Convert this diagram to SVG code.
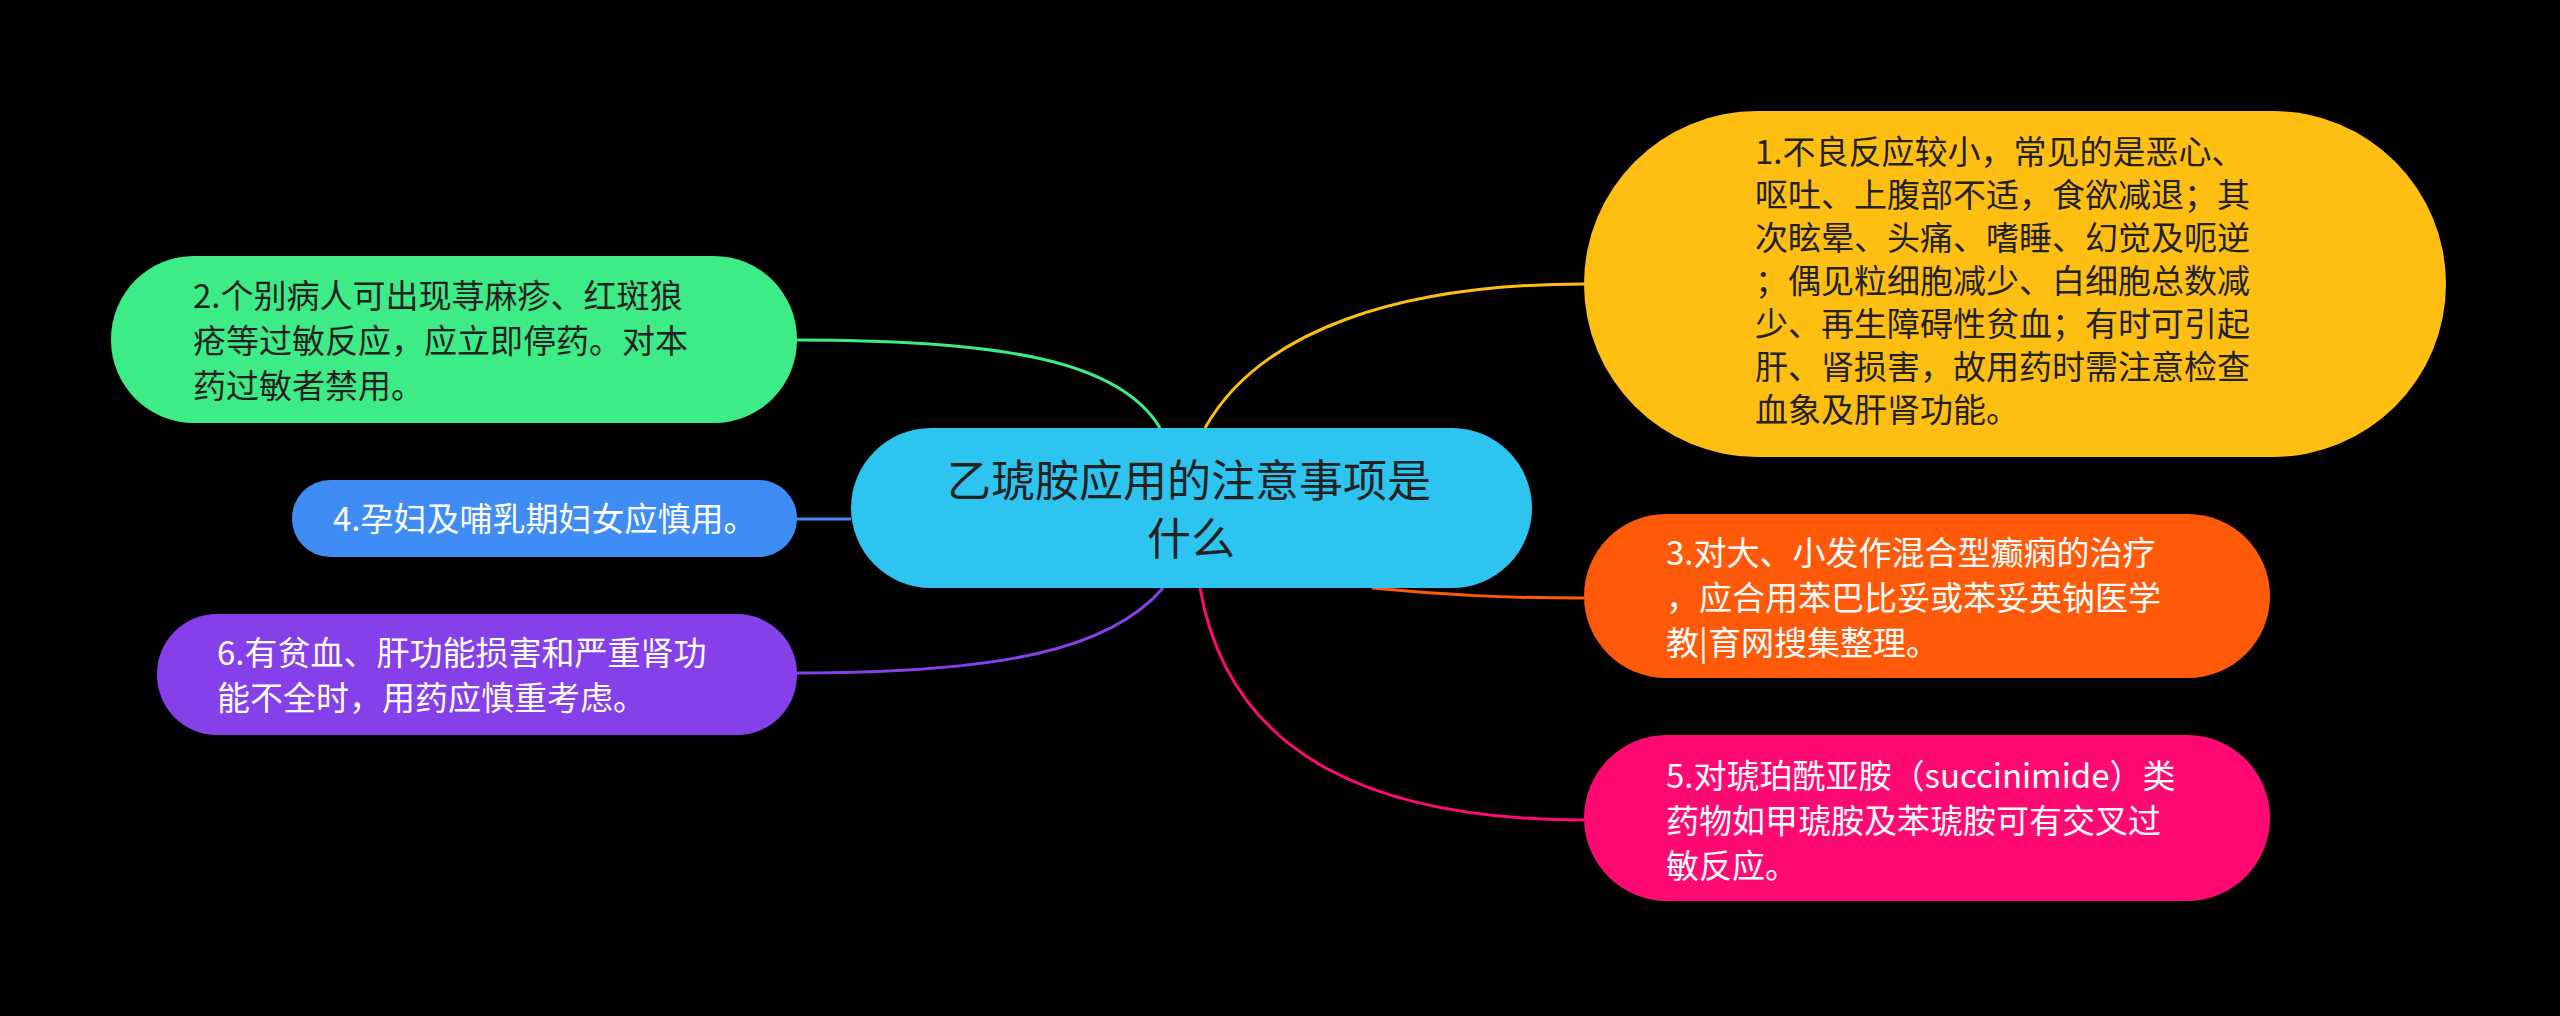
<svg xmlns="http://www.w3.org/2000/svg" width="2560" height="1016" viewBox="0 0 2560 1016">
<style>
text{font-family:"Noto Sans CJK SC","Noto Sans",sans-serif;font-size:33px}
.d{fill:#222}.w{fill:#fff}
.t{font-size:44px}
.c{fill:none;stroke-width:3}
</style>
<rect width="2560" height="1016" fill="#000"/>
<g id="connectors">
<path class="c" stroke="#FFBE12" d="M1205 428 C1260 330 1400 284 1584 284"/>
<path class="c" stroke="#3EEC87" d="M1160 428 C1120 360 1000 340 797 340"/>
<path class="c" stroke="#3F8CF5" d="M851 519 L797 519"/>
<path class="c" stroke="#8640EA" d="M1163 588 C1110 650 1000 673 797 673"/>
<path class="c" stroke="#FF5A0A" d="M1372 588 C1450 595 1500 598 1584 598"/>
<path class="c" stroke="#FF0A72" d="M1200 588 C1230 760 1380 820 1584 820"/>
</g>
<g id="center">
<rect x="851" y="428" width="681" height="160" rx="80" fill="#2EC4F0"/>
<text x="947" y="497" class="d t">乙琥胺应用的注意事项是</text>
<text x="1147" y="555" class="d t">什么</text>
</g>
<g id="n1">
<rect x="1584" y="111" width="862" height="346" rx="173" fill="#FFBE12"/>
<text class="d" x="1755" y="164">1.不良反应较小，常见的是恶心、</text>
<text class="d" x="1755" y="207">呕吐、上腹部不适，食欲减退；其</text>
<text class="d" x="1755" y="250">次眩晕、头痛、嗜睡、幻觉及呃逆</text>
<text class="d" x="1755" y="293">；偶见粒细胞减少、白细胞总数减</text>
<text class="d" x="1755" y="336">少、再生障碍性贫血；有时可引起</text>
<text class="d" x="1755" y="379">肝、肾损害，故用药时需注意检查</text>
<text class="d" x="1755" y="422">血象及肝肾功能。</text>
</g>
<g id="n2">
<rect x="111" y="256" width="686" height="167" rx="83" fill="#3EEC87"/>
<text class="d" x="193" y="308">2.个别病人可出现荨麻疹、红斑狼</text>
<text class="d" x="193" y="353">疮等过敏反应，应立即停药。对本</text>
<text class="d" x="193" y="398">药过敏者禁用。</text>
</g>
<g id="n4">
<rect x="292" y="480" width="505" height="77" rx="38" fill="#3F8CF5"/>
<text class="w" x="333" y="531">4.孕妇及哺乳期妇女应慎用。</text>
</g>
<g id="n6">
<rect x="157" y="614" width="640" height="121" rx="60" fill="#8640EA"/>
<text class="w" x="217" y="665">6.有贫血、肝功能损害和严重肾功</text>
<text class="w" x="217" y="710">能不全时，用药应慎重考虑。</text>
</g>
<g id="n3">
<rect x="1584" y="514" width="686" height="164" rx="82" fill="#FF5A0A"/>
<text class="w" x="1666" y="565">3.对大、小发作混合型癫痫的治疗</text>
<text class="w" x="1666" y="610">，应合用苯巴比妥或苯妥英钠医学</text>
<text class="w" x="1666" y="655">教|育网搜集整理。</text>
</g>
<g id="n5">
<rect x="1584" y="735" width="686" height="166" rx="83" fill="#FF0A72"/>
<text class="w" x="1666" y="788">5.对琥珀酰亚胺（succinimide）类</text>
<text class="w" x="1666" y="833">药物如甲琥胺及苯琥胺可有交叉过</text>
<text class="w" x="1666" y="878">敏反应。</text>
</g>
</svg>
